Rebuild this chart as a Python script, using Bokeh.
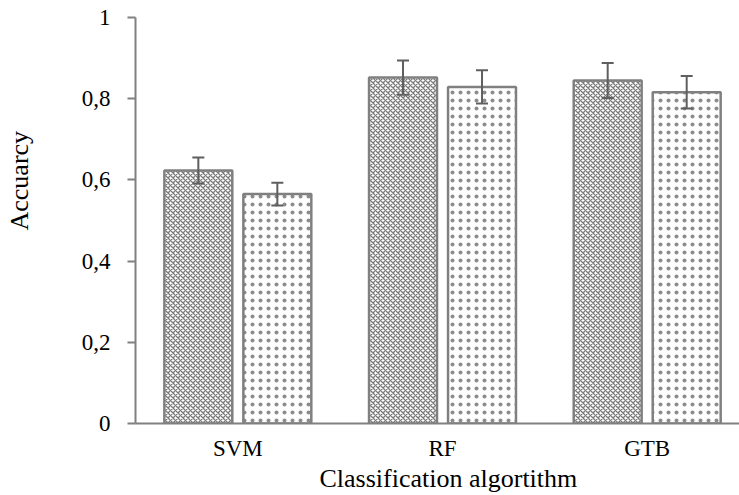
from bokeh.plotting import figure
from bokeh.models import (ColumnDataSource, Range1d, FixedTicker, CustomJSTickFormatter,
                          Whisker, TeeHead, Title)
from bokeh.embed import file_html
from bokeh.resources import INLINE

categories = ["SVM", "RF", "GTB"]
series_a = [0.623, 0.852, 0.845]
err_a = [0.032, 0.042, 0.043]
series_b = [0.565, 0.829, 0.816]
err_b = [0.028, 0.041, 0.040]
y_ticks = [0, 0.2, 0.4, 0.6, 0.8, 1.0]
x_title = "Classification algortithm"
y_title = "Accuarcy"

FONT = "Liberation Serif"
FS = "23px"
TFS = "26px"
EDGE = "#808080"
ERR = "#5f5f5f"

centers = [i + 0.5 for i in range(len(categories))]
off = 0.193
bw = 0.332

src_a = ColumnDataSource(dict(
    x=[c - off for c in centers], top=series_a,
    upper=[v + e for v, e in zip(series_a, err_a)],
    lower=[v - e for v, e in zip(series_a, err_a)]))
src_b = ColumnDataSource(dict(
    x=[c + off for c in centers], top=series_b,
    upper=[v + e for v, e in zip(series_b, err_b)],
    lower=[v - e for v, e in zip(series_b, err_b)]))

p = figure(width=739, height=495, output_backend="svg", toolbar_location=None,
           x_range=Range1d(0, 2.951), y_range=Range1d(0, 1),
           min_border_left=134, min_border_right=0, min_border_top=17,
           min_border_bottom=72)
p.outline_line_color = None
p.background_fill_color = "white"
p.border_fill_color = "white"
p.xgrid.grid_line_color = None
p.ygrid.grid_line_color = None

p.vbar(x="x", top="top", width=bw, bottom=0, source=src_a,
       fill_color="white", line_color=EDGE, line_width=2.5,
       hatch_pattern="x", hatch_color="#7a7a7a", hatch_scale=5, hatch_weight=1.3)
p.vbar(x="x", top="top", width=bw, bottom=0, source=src_b,
       fill_color="white", line_color=EDGE, line_width=2.5,
       hatch_pattern=".", hatch_color="#8c8c8c", hatch_scale=8, hatch_weight=1)

for src in (src_a, src_b):
    w = Whisker(source=src, base="x", upper="upper", lower="lower",
                dimension="height", line_color=ERR, line_width=2, level="overlay",
                upper_head=TeeHead(size=12, line_color=ERR, line_width=2),
                lower_head=TeeHead(size=12, line_color=ERR, line_width=2))
    p.add_layout(w)

# x axis
p.xaxis.ticker = FixedTicker(ticks=centers)
p.xaxis.major_label_overrides = {c: n for c, n in zip(centers, categories)}
p.xaxis.major_tick_line_color = None
p.xaxis.minor_tick_line_color = None
p.xaxis.axis_line_color = EDGE
p.xaxis.axis_line_width = 2
p.xaxis.major_label_standoff = 6
p.xaxis.major_label_text_font = FONT
p.xaxis.major_label_text_font_size = FS
p.xaxis.major_label_text_color = "black"

# y axis
p.yaxis.ticker = FixedTicker(ticks=y_ticks)
p.yaxis.formatter = CustomJSTickFormatter(
    code="return (Math.round(tick*10)/10).toString().replace('.', ',');")
p.yaxis.major_tick_out = 8
p.yaxis.major_tick_in = 0
p.yaxis.major_tick_line_color = EDGE
p.yaxis.major_tick_line_width = 2
p.yaxis.minor_tick_line_color = None
p.yaxis.axis_line_color = EDGE
p.yaxis.axis_line_width = 2
p.yaxis.major_label_standoff = 17
p.yaxis.major_label_text_font = FONT
p.yaxis.major_label_text_font_size = FS
p.yaxis.major_label_text_color = "black"
# invisible spacer label to push the title outward
p.yaxis.axis_label = " "
p.yaxis.axis_label_text_font_size = "1px"
p.yaxis.axis_label_text_alpha = 0
p.yaxis.axis_label_standoff = 39

xt = Title(text=x_title, align="left", offset=184, vertical_align="top", standoff=0,
           text_font=FONT, text_font_size=TFS, text_font_style="normal",
           text_color="black")
p.add_layout(xt, "below")

yt = Title(text=y_title, align="left", offset=193, standoff=4,
           text_font=FONT, text_font_size=TFS, text_font_style="normal",
           text_color="black")
p.add_layout(yt, "left")

open("out.html", "w").write(file_html(p, INLINE))
